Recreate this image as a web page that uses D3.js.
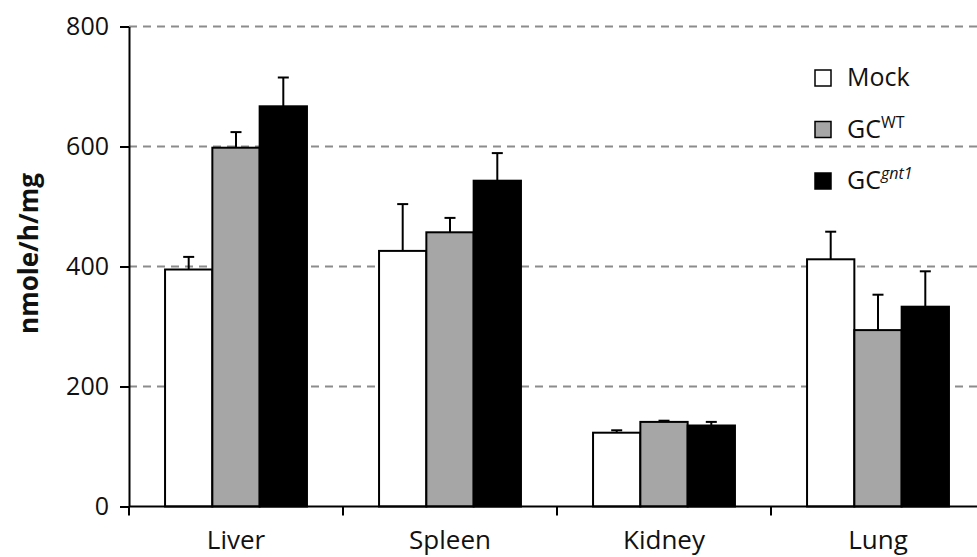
<!DOCTYPE html>
<html>
<head>
<meta charset="utf-8">
<script src="https://cdn.jsdelivr.net/npm/d3@7"></script>
<style>
  body { margin: 0; background: #fff; }
  svg { display: block; font-family: "Open Sans", sans-serif; }
</style>
</head>
<body>
<svg id="chart" width="977" height="557"></svg>
<script>
// data
const categories = ["Liver", "Spleen", "Kidney", "Lung"];
const seriesNames = ["Mock", "GCWT", "GCgnt1"];
const mockValues = [395, 426, 123, 412];
const mockErrors = [21, 78, 4, 46];
const wtValues = [598, 457, 141, 294];
const wtErrors = [26, 24, 2, 59];
const gntValues = [667, 543, 135, 333];
const gntErrors = [48, 46, 6, 59];
const yTicks = [0, 200, 400, 600, 800];

const fills = ["#ffffff", "#a6a6a6", "#000000"];

const width = 977, height = 557;
const margin = { top: 26.5, left: 129, bottom: 50.5 };
const bandStep = 214;

const svg = d3.select("#chart");

const series = [
    { name: "Mock", values: mockValues, errors: mockErrors },
    { name: "GCWT", values: wtValues, errors: wtErrors },
    { name: "GCgnt1", values: gntValues, errors: gntErrors }
];

const x = d3.scaleBand()
    .domain(categories)
    .range([margin.left, margin.left + bandStep * categories.length])
    .padding(0);

const xSub = d3.scaleBand()
    .domain(seriesNames)
    .range([0, x.bandwidth()])
    .paddingInner(0)
    .paddingOuter(0.762);

const y = d3.scaleLinear()
    .domain([0, 800])
    .range([height - margin.bottom, margin.top]);

// dashed gridlines
svg.append("g")
    .selectAll("line")
    .data(yTicks.filter(d => d > 0))
    .join("line")
    .attr("x1", margin.left)
    .attr("x2", width)
    .attr("y1", d => y(d))
    .attr("y2", d => y(d))
    .attr("stroke", "#8c8c8c")
    .attr("stroke-width", 2)
    .attr("stroke-dasharray", "8,6");

// bars
series.forEach((s, si) => {
    const g = svg.append("g");
    g.selectAll("rect")
        .data(s.values)
        .join("rect")
        .attr("x", (d, i) => x(categories[i]) + xSub(s.name))
        .attr("y", d => y(d))
        .attr("width", xSub.bandwidth())
        .attr("height", d => y(0) - y(d))
        .attr("fill", fills[si])
        .attr("stroke", "#000")
        .attr("stroke-width", 2);

    // error bars (upper only)
    const cx = i => x(categories[i]) + xSub(s.name) + xSub.bandwidth() / 2;
    g.selectAll("line.err")
        .data(s.values)
        .join("line")
        .attr("class", "err")
        .attr("x1", (d, i) => cx(i))
        .attr("x2", (d, i) => cx(i))
        .attr("y1", d => y(d))
        .attr("y2", (d, i) => y(d + s.errors[i]))
        .attr("stroke", "#000")
        .attr("stroke-width", 2);
    g.selectAll("line.cap")
        .data(s.values)
        .join("line")
        .attr("class", "cap")
        .attr("x1", (d, i) => cx(i) - 5.5)
        .attr("x2", (d, i) => cx(i) + 5.5)
        .attr("y1", (d, i) => y(d + s.errors[i]))
        .attr("y2", (d, i) => y(d + s.errors[i]))
        .attr("stroke", "#000")
        .attr("stroke-width", 2);
});

// y axis
svg.append("g")
    .attr("transform", `translate(${margin.left},0)`)
    .call(d3.axisLeft(y).tickValues(yTicks).tickSize(9).tickPadding(11).tickSizeOuter(0))
    .call(g => g.selectAll("path, line").attr("stroke", "#000").attr("stroke-width", 2))
    .call(g => g.selectAll("text")
        .attr("fill", "#111")
        .style("font-size", "25px")
        .style("font-family", "'Open Sans', sans-serif"));

// x axis: line plus ticks at category boundaries
const xAxisG = svg.append("g");
xAxisG.append("line")
    .attr("x1", margin.left)
    .attr("x2", width)
    .attr("y1", y(0))
    .attr("y2", y(0))
    .attr("stroke", "#000")
    .attr("stroke-width", 2);
xAxisG.selectAll("line.tick")
    .data(categories)
    .join("line")
    .attr("class", "tick")
    .attr("x1", d => x(d))
    .attr("x2", d => x(d))
    .attr("y1", y(0))
    .attr("y2", y(0) + 9)
    .attr("stroke", "#000")
    .attr("stroke-width", 2);
xAxisG.selectAll("text")
    .data(categories)
    .join("text")
    .attr("x", d => x(d) + x.bandwidth() / 2)
    .attr("y", 549)
    .attr("text-anchor", "middle")
    .attr("fill", "#111")
    .style("font-size", "26px")
    .text(d => d);

// y label
svg.append("text")
    .attr("transform", `translate(38,${(y(0) + y(800)) / 2 - 13}) rotate(-90)`)
    .attr("text-anchor", "middle")
    .attr("fill", "#111")
    .style("font-size", "26px")
    .style("font-weight", "bold")
    .text("nmole/h/mg");

// legend
const legendLabels = [
    { main: "Mock", sup: "", italic: false },
    { main: "GC", sup: "WT", italic: false },
    { main: "GC", sup: "gnt1", italic: true }
];
const legend = svg.append("g")
    .selectAll("g")
    .data(legendLabels)
    .join("g")
    .attr("transform", (d, i) => `translate(815,${70 + i * 51.5})`);

legend.append("rect")
    .attr("width", 16)
    .attr("height", 16)
    .attr("fill", (d, i) => fills[i])
    .attr("stroke", "#000")
    .attr("stroke-width", 1.5);

const legendText = legend.append("text")
    .attr("x", 32)
    .attr("y", 16)
    .attr("fill", "#111")
    .style("font-size", "25px");
legendText.append("tspan").text(d => d.main);
legendText.filter(d => d.sup)
    .append("tspan")
    .attr("dy", -10)
    .style("font-size", "16px")
    .style("font-style", d => d.italic ? "italic" : "normal")
    .text(d => d.sup);
</script>
</body>
</html>
